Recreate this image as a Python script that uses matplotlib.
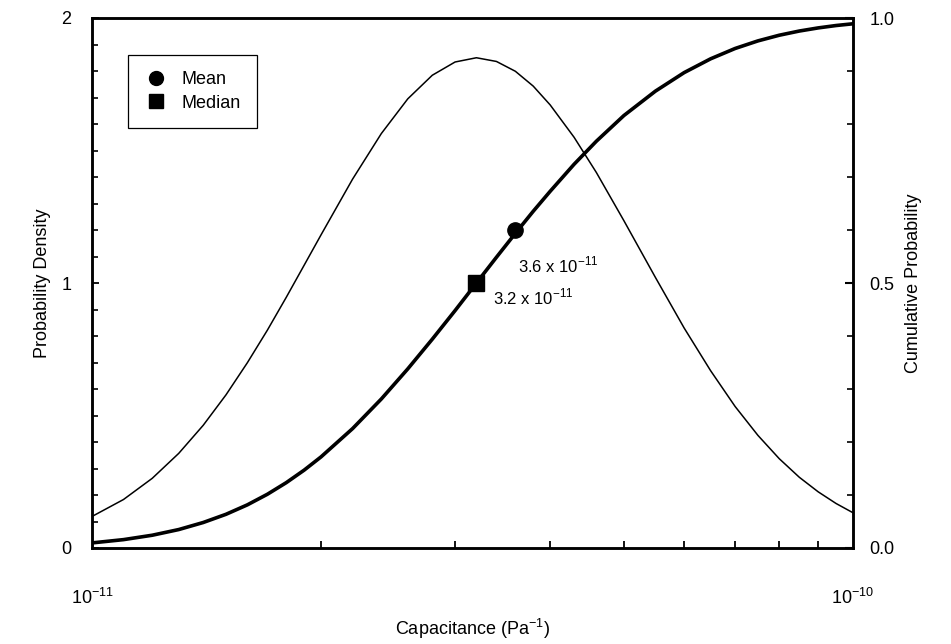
import matplotlib
matplotlib.use("Agg")
import matplotlib.pyplot as plt
from matplotlib.ticker import FixedLocator, MultipleLocator, NullFormatter, LogLocator
from matplotlib.lines import Line2D

plt.rcParams['font.family'] = ['Liberation Sans', 'DejaVu Sans']
plt.rcParams['mathtext.fontset'] = 'custom'
plt.rcParams['mathtext.rm'] = 'Liberation Sans'

# Capacitance values (Pa^-1)
capacitance = [1.0e-11, 1.1e-11, 1.2e-11, 1.3e-11, 1.4e-11, 1.5e-11, 1.6e-11, 1.7e-11,
               1.8e-11, 1.9e-11, 2.0e-11, 2.2e-11, 2.4e-11, 2.6e-11, 2.8e-11, 3.0e-11,
               3.2e-11, 3.4e-11, 3.6e-11, 3.8e-11, 4.0e-11, 4.3e-11, 4.6e-11, 5.0e-11,
               5.5e-11, 6.0e-11, 6.5e-11, 7.0e-11, 7.5e-11, 8.0e-11, 8.5e-11, 9.0e-11,
               9.5e-11, 1.0e-10]
# Probability density (left axis)
density = [0.119, 0.183, 0.263, 0.357, 0.463, 0.578, 0.699, 0.822,
           0.946, 1.067, 1.182, 1.392, 1.564, 1.695, 1.784, 1.834,
           1.850, 1.836, 1.799, 1.743, 1.672, 1.550, 1.417, 1.235,
           1.021, 0.830, 0.669, 0.534, 0.425, 0.337, 0.267, 0.212,
           0.168, 0.133]
# Cumulative probability (right axis)
cumulative = [0.0096, 0.0158, 0.0241, 0.0348, 0.0481, 0.0636, 0.0814, 0.1014,
              0.1233, 0.1469, 0.172, 0.2253, 0.2812, 0.338, 0.394, 0.448,
              0.500, 0.5486, 0.5937, 0.6353, 0.673, 0.724, 0.7675, 0.816,
              0.862, 0.897, 0.923, 0.9425, 0.9568, 0.9675, 0.9754, 0.9813,
              0.9858, 0.9891]

mean_x, mean_y = 3.6e-11, 0.60
median_x, median_y = 3.2e-11, 0.50
mean_label = r"3.6 x 10$^{-11}$"
median_label = r"3.2 x 10$^{-11}$"

fig = plt.figure(figsize=(9.51, 6.44), dpi=100)
ax = fig.add_axes([92/951, 1-548/644, (853-92)/951, (548-18)/644])
ax2 = ax.twinx()

ax.plot(capacitance, density, color='black', lw=1.1)
ax2.plot(capacitance, cumulative, color='black', lw=2.6)
ax2.plot([mean_x], [mean_y], 'o', color='black', ms=11)
ax2.plot([median_x], [median_y], 's', color='black', ms=11)
ax2.text(3.63e-11, 0.533, mean_label, fontsize=12, va='center', ha='left')
ax2.text(3.36e-11, 0.474, median_label, fontsize=12, va='center', ha='left')

ax.set_xscale('log')
ax.set_xlim(1e-11, 1e-10)
ax.set_ylim(0, 2)
ax2.set_ylim(0, 1)

ax.xaxis.set_major_locator(FixedLocator([1e-11, 1e-10]))
ax.xaxis.set_major_formatter(plt.FuncFormatter(
    lambda v, p: r"10$^{-11}$" if v < 5e-11 else r"10$^{-10}$"))
ax.xaxis.set_minor_locator(LogLocator(base=10, subs=range(2, 10)))
ax.xaxis.set_minor_formatter(NullFormatter())
ax.tick_params(axis='x', which='major', direction='in', length=0, pad=29, labelsize=13)
ax.tick_params(axis='x', which='minor', direction='in', length=5, width=1.3, top=False)

ax.yaxis.set_major_locator(FixedLocator([0, 1, 2]))
ax.yaxis.set_minor_locator(MultipleLocator(0.1))
ax.tick_params(axis='y', which='major', direction='in', length=5, width=1.3, pad=15, labelsize=13)
ax.tick_params(axis='y', which='minor', direction='in', length=4, width=1.2)

ax2.yaxis.set_major_locator(FixedLocator([0, 0.5, 1.0]))
ax2.yaxis.set_major_formatter(plt.FuncFormatter(lambda v, p: f"{v:.1f}"))
ax2.yaxis.set_minor_locator(MultipleLocator(0.1))
ax2.tick_params(axis='y', which='major', direction='in', length=6, width=1.5, pad=12, labelsize=13)
ax2.tick_params(axis='y', which='minor', direction='in', length=4, width=1.2)

for a in (ax, ax2):
    for s in a.spines.values():
        s.set_linewidth(1.8)

ax.set_ylabel("Probability Density", fontsize=13, labelpad=7)
ax2.set_ylabel("Cumulative Probability", fontsize=13, labelpad=7)
ax.set_xlabel(r"Capacitance (Pa$^{-1}$)", fontsize=13, labelpad=6)

handles = [Line2D([], [], marker='o', ls='none', color='black', ms=10),
           Line2D([], [], marker='s', ls='none', color='black', ms=10)]
leg = ax.legend(handles, ["Mean", "Median"], loc='upper left',
                bbox_to_anchor=(0.047, 0.930), fancybox=False, edgecolor='black',
                fontsize=13, handletextpad=0.8, borderpad=0.9, labelspacing=0.35,
                handlelength=1.3, borderaxespad=0, framealpha=1)
leg.get_frame().set_linewidth(0.9)

fig.savefig("out.png", dpi=100)
